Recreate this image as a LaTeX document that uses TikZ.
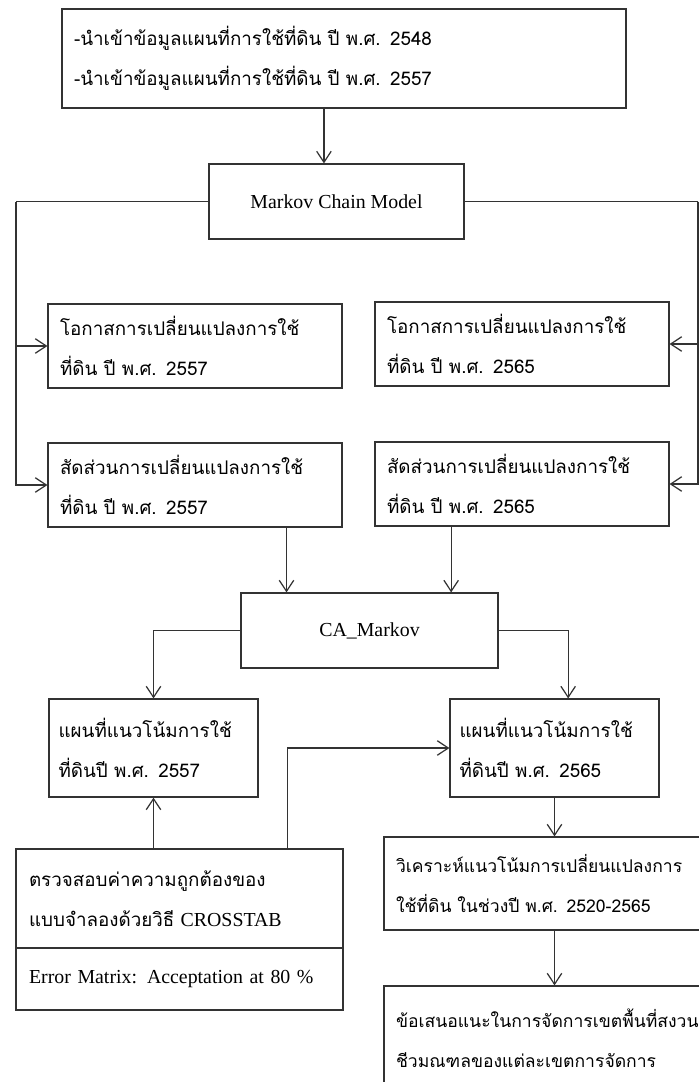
\documentclass[tikz,border=0pt]{standalone}
\usepackage{fontspec}
\setmainfont{Liberation Serif}
\newfontfamily\thaifont[Script=Thai]{Loma}
\newfontfamily\latinfont{Liberation Serif}
\usetikzlibrary{arrows.meta,calc}

\begin{document}
\begin{tikzpicture}[
  x=0.02cm,y=-0.02cm,
  tbox/.style={draw=black!80,line width=0.7pt,align=left,inner xsep=0pt,
               font=\thaifont\fontsize{10.7}{23}\selectfont},
  lbox/.style={draw=black!80,line width=0.7pt,align=center,
               font=\fontsize{11.3}{14}\selectfont},
  ebox/.style={draw=black!80,line width=0.7pt,align=left,inner xsep=0pt,
               font=\fontsize{11.3}{14}\selectfont},
  arr/.style={-{Straight Barb[length=2.2mm,width=2.9mm]},draw=black!80,line width=0.7pt},
  line/.style={draw=black!80,line width=0.7pt}
]
\clip (0,0) rectangle (699,1082);
\node[tbox,minimum width=11.28cm,minimum height=1.98cm,text width=10.8cm] (top) at (344,58.5)
  {-นำเข้าข้อมูลแผนที่การใช้ที่ดิน ปี พ.ศ. 2548\\-นำเข้าข้อมูลแผนที่การใช้ที่ดิน ปี พ.ศ. 2557};
\node[lbox,minimum width=5.1cm,minimum height=1.5cm] (mkv) at (336.5,201.5) {Markov Chain Model};
\node[tbox,minimum width=5.88cm,minimum height=1.68cm,text width=5.4cm] (occA) at (195,346)
  {โอกาสการเปลี่ยนแปลงการใช้\\ที่ดิน ปี พ.ศ. 2557};
\node[tbox,minimum width=5.88cm,minimum height=1.68cm,text width=5.4cm] (occB) at (522,344)
  {โอกาสการเปลี่ยนแปลงการใช้\\ที่ดิน ปี พ.ศ. 2565};
\node[tbox,minimum width=5.88cm,minimum height=1.68cm,text width=5.4cm] (shrA) at (195,485)
  {สัดส่วนการเปลี่ยนแปลงการใช้\\ที่ดิน ปี พ.ศ. 2557};
\node[tbox,minimum width=5.88cm,minimum height=1.68cm,text width=5.4cm] (shrB) at (522,484)
  {สัดส่วนการเปลี่ยนแปลงการใช้\\ที่ดิน ปี พ.ศ. 2565};
\node[lbox,minimum width=5.14cm,minimum height=1.5cm] (ca) at (369.5,630.5) {CA\_Markov};
\node[tbox,minimum width=4.18cm,minimum height=1.96cm,text width=3.8cm] (mapA) at (153.5,748)
  {แผนที่แนวโน้มการใช้\\ที่ดินปี พ.ศ. 2557};
\node[tbox,minimum width=4.18cm,minimum height=1.96cm,text width=3.8cm] (mapB) at (554.5,748)
  {แผนที่แนวโน้มการใช้\\ที่ดินปี พ.ศ. 2565};
\node[tbox,minimum width=6.54cm,minimum height=1.98cm,text width=6.02cm] (check) at (179.5,898.5)
  {ตรวจสอบค่าความถูกต้องของ\\แบบจำลองด้วยวิธี {\latinfont\fontsize{11.3}{23}\selectfont CROSSTAB}};
\node[ebox,minimum width=6.54cm,minimum height=1.24cm,text width=6.02cm] (errm) at (179.5,979)
  {Error Matrix: Acceptation at 80 \%};
\node[tbox,minimum width=7.12cm,minimum height=1.86cm,text width=6.64cm,
      font=\thaifont\fontsize{10}{23}\selectfont] (trend) at (562,883.5)
  {วิเคราะห์แนวโน้มการเปลี่ยนแปลงการ\\ใช้ที่ดิน ในช่วงปี พ.ศ. 2520-2565};
\node[tbox,minimum width=7.12cm,minimum height=2.08cm,text width=6.64cm,
      font=\thaifont\fontsize{10}{23}\selectfont] (sugg) at (562,1038)
  {ข้อเสนอแนะในการจัดการเขตพื้นที่สงวน\\ชีวมณฑลของแต่ละเขตการจัดการ};
\coordinate (t1) at ($(top.south west)!0.4645!(top.south east)$);
\coordinate (lft) at (16,201.5);
\coordinate (rgt) at (698,201.5);
\coordinate (s1) at ($(shrA.south west)!0.81!(shrA.south east)$);
\coordinate (s2) at ($(shrB.south west)!0.26!(shrB.south east)$);
\coordinate (c2) at ($(mapB.north west)!0.565!(mapB.north east)$);
\coordinate (k2) at ($(check.north west)!0.83!(check.north east)$);
\draw[arr] (t1) -- (t1 |- mkv.north);
\draw[line] (mkv.west) -- (lft);
\draw[arr] (lft) |- (occA.west);
\draw[arr] (lft) |- (shrA.west);
\draw[line] (mkv.east) -- (rgt);
\draw[arr] (rgt) |- (occB.east);
\draw[arr] (rgt) |- (shrB.east);
\draw[arr] (s1) -- (s1 |- ca.north);
\draw[arr] (s2) -- (s2 |- ca.north);
\draw[arr] (ca.west) -| (mapA.north);
\draw[arr] (ca.east) -| (c2);
\draw[arr] (check.north -| mapA.south) -- (mapA.south);
\draw[arr] (k2) |- (mapB.west);
\draw[arr] (mapB.south) -- (mapB.south |- trend.north);
\draw[arr] (mapB.south |- trend.south) -- (mapB.south |- sugg.north);
\end{tikzpicture}
\end{document}
